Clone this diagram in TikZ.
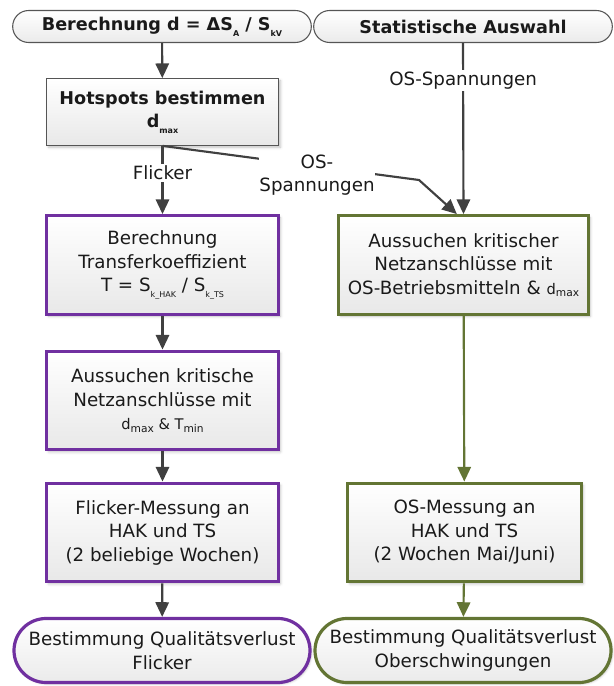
\documentclass[tikz,border=0pt]{standalone}
\usepackage{fontspec}
\setmainfont{DejaVu Sans}
\usetikzlibrary{arrows.meta,shapes.misc,shadows.blur}
\definecolor{ink}{HTML}{1A1A1A}
\definecolor{pfeilgrau}{HTML}{404040}
\definecolor{randgrau}{HTML}{555555}
\definecolor{lila}{HTML}{7030A0}
\definecolor{oliv}{HTML}{637534}
\newcommand{\textgr}{\fontsize{13.7}{17.6}\selectfont}
\newcommand{\textfett}{\fontsize{13.2}{17.6}\selectfont\bfseries}
\newcommand{\klein}{\fontsize{11}{13}\selectfont}
\newcommand{\tief}[1]{\raisebox{-0.6ex}{\fontsize{6}{7}\selectfont #1}}
\newcommand{\tiefk}[1]{\raisebox{-0.3ex}{\fontsize{8}{9}\selectfont #1}}

\begin{document}
\begin{tikzpicture}[x=0.75pt,y=-0.75pt,
  anfang/.style={rounded rectangle,draw=randgrau,line width=0.8pt,top color=white,bottom color=black!8,
    minimum width=224pt,minimum height=24pt,inner sep=0pt,font=\textfett,text=ink},
  ende/.style={rounded rectangle,line width=2.4pt,top color=white,bottom color=black!8,
    minimum width=222pt,minimum height=48pt,inner sep=0pt,align=center,font=\textgr,text=ink,
    blur shadow={shadow xshift=1.2pt,shadow yshift=-1.2pt,shadow blur radius=1.5pt,shadow opacity=20}},
  kasten/.style={rectangle,line width=2.4pt,top color=white,bottom color=black!9,
    minimum height=74pt,inner sep=0pt,align=center,font=\textgr,text=ink,
    blur shadow={shadow xshift=1.5pt,shadow yshift=-1.5pt,shadow blur radius=2pt,shadow opacity=25}},
  pfeil/.style={draw=pfeilgrau,line width=1.6pt,-{Triangle[length=11pt,width=10pt]}},
  pfeiloliv/.style={pfeil,draw=oliv},
  beschr/.style={fill=white,inner sep=1.5pt,font=\textgr,text=ink,align=center}]
\useasboundingbox (0,0) rectangle (614,686);
% linke Spalte: Flicker
\node[anfang] (startL) at (162,26.5) {Berechnung d = ΔS\tief{A} / S\tief{kV}};
\node[kasten,draw=randgrau,line width=0.8pt,minimum width=174pt,minimum height=50pt,font=\textfett] (hot) at (162.5,112) {Hotspots bestimmen\\d\tief{max}};
\node[kasten,draw=lila,minimum width=174pt] (ber) at (162.5,265) {Berechnung\\Transferkoeffizient\\T = S\tief{k\_HAK} / S\tief{k\_TS}};
\node[kasten,draw=lila,minimum width=174pt] (aus) at (162.5,400.5) {Aussuchen kritische\\Netzanschlüsse mit\\{\klein d\tiefk{max} \& T\tiefk{min}}};
\node[kasten,draw=lila,minimum width=174pt] (mes) at (162.5,532.5) {Flicker-Messung an\\HAK und TS\\(2 beliebige Wochen)};
\node[ende,draw=lila] (endL) at (162,650.5) {Bestimmung Qualitätsverlust\\Flicker};
% rechte Spalte: Oberschwingungen
\node[anfang] (startR) at (463,26.5) {Statistische Auswahl};
\node[kasten,draw=oliv,minimum width=187pt] (ausOS) at (463.5,265) {Aussuchen kritischer\\Netzanschlüsse mit\\OS-Betriebsmitteln \& {\klein d\tiefk{max}}};
\node[kasten,draw=oliv,minimum width=175pt] (mesOS) at (464.5,532.5) {OS-Messung an\\HAK und TS\\(2 Wochen Mai/Juni)};
\node[ende,draw=oliv] (endR) at (463,650.5) {Bestimmung Qualitätsverlust\\Oberschwingungen};
\coordinate (knick) at (419,180);
% Verbindungen
\draw[pfeil] (startL) -- (hot);
\draw[pfeil] (hot) -- node[beschr,pos=0.4] {Flicker} (ber);
\draw[pfeil] (ber) -- (aus);
\draw[pfeil] (aus) -- (mes);
\draw[pfeil] (mes) -- (endL);
\draw[pfeil] (startR.south) -- node[beschr,pos=0.22] {OS-Spannungen} (ausOS.north);
\draw[pfeil] (hot.south) -- (knick) -- ([xshift=-5pt]ausOS.north);
\node[beschr,inner sep=0.5pt] (osl) at (317,175) {OS-\\Spannungen};
\draw[pfeiloliv] (ausOS) -- (mesOS);
\draw[pfeiloliv] (mesOS) -- (endR);
\end{tikzpicture}
\end{document}
